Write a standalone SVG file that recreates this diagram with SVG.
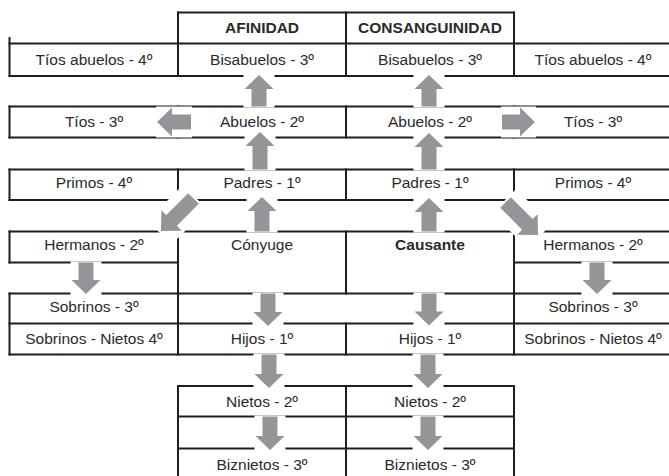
<svg xmlns="http://www.w3.org/2000/svg" width="669" height="476" viewBox="0 0 669 476">
<style>
.ln{fill:none;stroke:#1e1e1e;stroke-width:2;stroke-linecap:square}
.t{font-family:"Liberation Sans",Arial,sans-serif;font-size:15.5px;fill:#2a2a2a;text-anchor:middle}
.b{font-weight:bold}
.halo{fill:#fff}
.arr{fill:#939598}
</style>
<rect width="669" height="476" fill="#fff"/>
<g id="grid">
<path class="ln" d="M178 12.5H514 M9.5 43.5H669 M9.5 76H669 M9.5 106.5H669 M9.5 137.5H669 M9.5 169.5H669 M9.5 200H669 M9.5 231.5H669 M9.5 262.5H178 M514 262.5H669 M9.5 293.5H669 M9.5 323.5H669 M9.5 354.5H669 M178 386H514 M178 416.5H514 M178 448.5H514"/>
<path class="ln" d="M9.5 38V76 M9.5 106.5V137.5 M9.5 169.5V200 M9.5 231.5V262.5 M9.5 293.5V354.5
M178 12.5V76 M178 106.5V137.5 M178 169.5V200 M178 231.5V354.5 M178 386V477
M346 12.5V76 M346 106.5V137.5 M346 169.5V200 M346 231.5V293.5 M346 323.5V354.5 M346 386V477
M514 12.5V76 M514 106.5V137.5 M514 169.5V200 M514 231.5V354.5 M514 386V477"/>
</g>
<g id="connectors">
<rect class="halo" x="243.5" y="74" width="31" height="33.5"/><polygon class="arr" points="259,75 273.5,89 266.5,89 266.5,106.5 251.5,106.5 251.5,89 244.5,89"/>
<rect class="halo" x="244.5" y="131" width="31" height="39.5"/><polygon class="arr" points="260,132 274.5,146 267.5,146 267.5,169.5 252.5,169.5 252.5,146 245.5,146"/>
<rect class="halo" x="246.5" y="196" width="31" height="36.5"/><polygon class="arr" points="262,197 276.5,211 269.5,211 269.5,231.5 254.5,231.5 254.5,211 247.5,211"/>
<rect class="halo" x="252.5" y="292.5" width="31" height="34.5"/><polygon class="arr" points="268,326 282.5,312 275.5,312 275.5,293.5 260.5,293.5 260.5,312 253.5,312"/>
<rect class="halo" x="253.5" y="353.5" width="31" height="35.5"/><polygon class="arr" points="269,388 283.5,374 276.5,374 276.5,354.5 261.5,354.5 261.5,374 254.5,374"/>
<rect class="halo" x="254.5" y="415.5" width="31" height="35.5"/><polygon class="arr" points="270,450 284.5,436 277.5,436 277.5,416.5 262.5,416.5 262.5,436 255.5,436"/>
<rect class="halo" x="413.5" y="74" width="31" height="33.5"/><polygon class="arr" points="429,75 443.5,89 436.5,89 436.5,106.5 421.5,106.5 421.5,89 414.5,89"/>
<rect class="halo" x="413.5" y="132" width="31" height="38.5"/><polygon class="arr" points="429,133 443.5,147 436.5,147 436.5,169.5 421.5,169.5 421.5,147 414.5,147"/>
<rect class="halo" x="413.5" y="197" width="31" height="35.5"/><polygon class="arr" points="429,198 443.5,212 436.5,212 436.5,231.5 421.5,231.5 421.5,212 414.5,212"/>
<rect class="halo" x="413.5" y="292.5" width="31" height="34"/><polygon class="arr" points="429,325.5 443.5,311.5 436.5,311.5 436.5,293.5 421.5,293.5 421.5,311.5 414.5,311.5"/>
<rect class="halo" x="412.5" y="353.5" width="31" height="35.5"/><polygon class="arr" points="428,388 442.5,374 435.5,374 435.5,354.5 420.5,354.5 420.5,374 413.5,374"/>
<rect class="halo" x="412.5" y="415.5" width="31" height="35.5"/><polygon class="arr" points="428,450 442.5,436 435.5,436 435.5,416.5 420.5,416.5 420.5,436 413.5,436"/>
<rect class="halo" x="156" y="106.5" width="36" height="31"/><polygon class="arr" points="157,122 172,107.5 172,114.5 191,114.5 191,129.5 172,129.5 172,136.5"/>
<rect class="halo" x="501" y="106.5" width="35" height="31"/><polygon class="arr" points="535,122 520,107.5 520,114.5 502,114.5 502,129.5 520,129.5 520,136.5"/>
<g transform="translate(193.5,198.5) rotate(135)"><rect class="halo" x="-2" y="-17" width="50" height="34"/><polygon class="arr" points="0,-7.5 31,-7.5 31,-14.5 46,0 31,14.5 31,7.5 0,7.5"/></g>
<g transform="translate(505.5,202.5) rotate(45)"><rect class="halo" x="-2" y="-17" width="50" height="34"/><polygon class="arr" points="0,-7.5 31,-7.5 31,-14.5 46,0 31,14.5 31,7.5 0,7.5"/></g>
<rect class="halo" x="70.5" y="261.5" width="31" height="33.5"/><polygon class="arr" points="86,294 100.5,280 93.5,280 93.5,262.5 78.5,262.5 78.5,280 71.5,280"/>
<rect class="halo" x="581.5" y="261.5" width="31" height="33.5"/><polygon class="arr" points="597,294 611.5,280 604.5,280 604.5,262.5 589.5,262.5 589.5,280 582.5,280"/>
</g>
<g id="h-afinidad"><text class="t b" x="262" y="33.3">AFINIDAD</text></g>
<g id="h-consanguinidad"><text class="t b" x="430" y="33.3">CONSANGUINIDAD</text></g>
<g id="tios-abuelos-l"><text class="t" x="94" y="64.5">Tíos abuelos - 4º</text></g>
<g id="bisabuelos-a"><text class="t" x="262" y="64.5">Bisabuelos - 3º</text></g>
<g id="bisabuelos-c"><text class="t" x="430" y="64.5">Bisabuelos - 3º</text></g>
<g id="tios-abuelos-r"><text class="t" x="593" y="64.5">Tíos abuelos - 4º</text></g>
<g id="tios-l"><text class="t" x="94" y="127">Tíos - 3º</text></g>
<g id="abuelos-a"><text class="t" x="262" y="127">Abuelos - 2º</text></g>
<g id="abuelos-c"><text class="t" x="430" y="127">Abuelos - 2º</text></g>
<g id="tios-r"><text class="t" x="593" y="127">Tíos - 3º</text></g>
<g id="primos-l"><text class="t" x="94" y="188">Primos - 4º</text></g>
<g id="padres-a"><text class="t" x="262" y="188">Padres - 1º</text></g>
<g id="padres-c"><text class="t" x="430" y="188">Padres - 1º</text></g>
<g id="primos-r"><text class="t" x="593" y="188">Primos - 4º</text></g>
<g id="hermanos-l"><text class="t" x="94" y="250">Hermanos - 2º</text></g>
<g id="conyuge"><text class="t" x="262" y="250">Cónyuge</text></g>
<g id="causante"><text class="t b" x="430" y="250">Causante</text></g>
<g id="hermanos-r"><text class="t" x="593" y="250">Hermanos - 2º</text></g>
<g id="sobrinos-l"><text class="t" x="94" y="312">Sobrinos - 3º</text></g>
<g id="sobrinos-r"><text class="t" x="593" y="312">Sobrinos - 3º</text></g>
<g id="sobrinos-nietos-l"><text class="t" x="94" y="343.5">Sobrinos - Nietos 4º</text></g>
<g id="hijos-a"><text class="t" x="262" y="343.5">Hijos - 1º</text></g>
<g id="hijos-c"><text class="t" x="430" y="343.5">Hijos - 1º</text></g>
<g id="sobrinos-nietos-r"><text class="t" x="593" y="343.5">Sobrinos - Nietos 4º</text></g>
<g id="nietos-a"><text class="t" x="262" y="407">Nietos - 2º</text></g>
<g id="nietos-c"><text class="t" x="430" y="407">Nietos - 2º</text></g>
<g id="biznietos-a"><text class="t" x="262" y="469.5">Biznietos - 3º</text></g>
<g id="biznietos-c"><text class="t" x="430" y="469.5">Biznietos - 3º</text></g>
</svg>
